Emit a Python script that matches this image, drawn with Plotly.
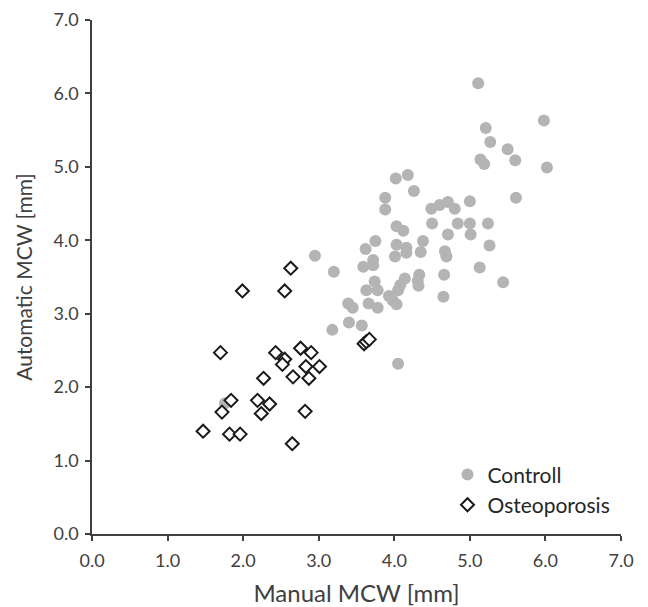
import plotly.graph_objects as go

control_x = [1.76, 2.95, 3.20, 3.39, 3.45, 3.40, 3.18, 3.57, 4.05, 3.66, 3.78,
             3.93, 3.98, 4.03, 3.63, 3.74, 3.78, 4.14, 4.08, 4.05, 4.33, 4.31,
             4.32, 4.66, 4.65, 3.59, 3.72, 3.72, 4.01, 4.03, 4.16, 4.16, 4.35,
             4.38, 3.75, 3.62, 4.03, 4.12, 4.67, 4.69, 4.50, 4.71, 4.84, 5.00,
             5.24, 5.01, 5.26, 5.13, 5.44, 4.49, 4.60, 4.71, 4.80, 5.00, 3.88,
             3.88, 4.02, 4.18, 4.26, 5.61, 6.02, 5.98, 5.11, 5.21, 5.27, 5.50,
             5.60, 5.14, 5.19]
control_y = [1.78, 3.79, 3.57, 3.14, 3.08, 2.88, 2.78, 2.84, 2.32, 3.14, 3.08,
             3.24, 3.18, 3.13, 3.32, 3.44, 3.32, 3.48, 3.39, 3.32, 3.53, 3.45,
             3.38, 3.53, 3.23, 3.64, 3.73, 3.66, 3.78, 3.94, 3.90, 3.83, 3.84,
             3.99, 3.99, 3.88, 4.19, 4.13, 3.85, 3.78, 4.23, 4.08, 4.23, 4.23,
             4.23, 4.08, 3.93, 3.63, 3.43, 4.43, 4.48, 4.52, 4.43, 4.53, 4.58,
             4.42, 4.84, 4.89, 4.67, 4.58, 4.99, 5.63, 6.14, 5.53, 5.34, 5.24,
             5.09, 5.10, 5.04]

osteo_x = [2.63, 1.99, 2.55, 1.70, 2.43, 2.55, 2.52, 2.76, 2.90, 2.83, 3.01,
           2.66, 2.87, 2.27, 1.84, 1.72, 2.19, 2.35, 2.24, 2.82, 1.47, 1.82,
           1.96, 2.65, 3.60, 3.63, 3.67]
osteo_y = [3.62, 3.31, 3.31, 2.47, 2.47, 2.38, 2.31, 2.53, 2.47, 2.28, 2.28,
           2.14, 2.12, 2.12, 1.82, 1.66, 1.82, 1.77, 1.64, 1.67, 1.40, 1.36,
           1.36, 1.23, 2.59, 2.62, 2.65]

tick_vals = [0, 1, 2, 3, 4, 5, 6, 7]
tick_text = ["0.0", "1.0", "2.0", "3.0", "4.0", "5.0", "6.0", "7.0"]

font_family = "Lato, 'Open Sans', sans-serif"
ink = "#404040"

fig = go.Figure()
fig.add_trace(go.Scatter(
    x=control_x, y=control_y, mode="markers", name="Controll",
    marker=dict(symbol="circle", size=12, color="#b4b4b4", line=dict(width=0)),
))
fig.add_trace(go.Scatter(
    x=osteo_x, y=osteo_y, mode="markers", name="Osteoporosis",
    marker=dict(symbol="diamond", size=10, color="white",
                line=dict(width=2, color="#1a1a1a")),
))

axis_common = dict(
    range=[0, 7], tickvals=tick_vals, ticktext=tick_text,
    showgrid=False, zeroline=False, showline=True, linecolor=ink,
    linewidth=1.5, ticklen=5, tickwidth=1.5, automargin=False,
    ticks="outside",
    tickcolor=ink, tickfont=dict(size=18, color=ink, family=font_family),
)

# the page body adds an 8px offset, so the figure is 8px smaller
fig.update_layout(
    width=640, height=599,
    margin=dict(l=84, r=27, t=12, b=73),
    plot_bgcolor="white", paper_bgcolor="white",
    font=dict(family=font_family, color=ink),
    xaxis=dict(**axis_common, ticklabelstandoff=5,
               title=dict(text="Manual MCW [mm]", standoff=17,
                          font=dict(size=24, color=ink))),
    yaxis=dict(**axis_common, ticklabelstandoff=3,
               title=dict(text="Automatic MCW [mm]",
                          font=dict(size=21, color=ink))),
    legend=dict(x=0.672, y=0.155, xanchor="left", yanchor="top",
                font=dict(size=21, color="#262626", family=font_family),
                itemwidth=30, tracegroupgap=0, bgcolor="rgba(0,0,0,0)"),
    showlegend=True,
)

fig.write_html("out.html")
